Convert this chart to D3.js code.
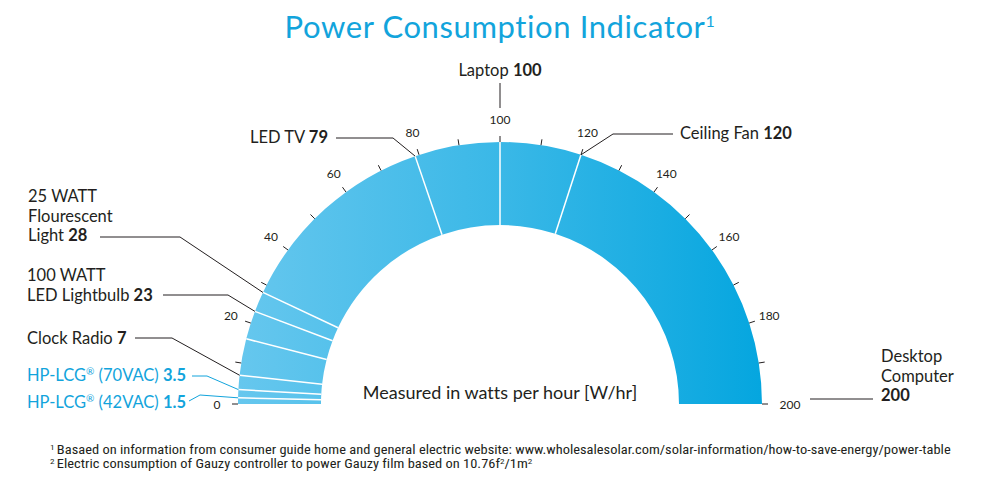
<!DOCTYPE html>
<html>
<head>
<meta charset="utf-8">
<script src="https://cdn.jsdelivr.net/npm/d3@7"></script>
<style>
  body { margin: 0; background: #fff; }
  svg { font-family: Lato, "Open Sans", sans-serif; font-variant-ligatures: none; }
</style>
</head>
<body>
<svg id="chart" width="1000" height="483"></svg>
<script>
// gauge scale and segments
var scaleMin = 0, scaleMax = 200;
var tickValues = d3.range(0, 201, 10);
var tickLabels = d3.range(0, 201, 20);
var segmentBreaks = [0, 1.5, 3.5, 7, 16, 23, 28, 79, 100, 120, 200];

// labelled devices
var devices = ["HP-LCG\u00ae (42VAC)", "HP-LCG\u00ae (70VAC)", "Clock Radio", "100 WATT|LED Lightbulb",
               "25 WATT|Flourescent|Light", "LED TV", "Laptop", "Ceiling Fan", "Desktop|Computer"];
var watts = [1.5, 3.5, 7, 23, 28, 79, 100, 120, 200];
var ownProduct = [true, true, false, false, false, false, false, false, false];

var footnotes = [
    ["1", "Basaed on information from consumer guide home and general electric website: www.wholesalesolar.com/solar-information/how-to-save-energy/power-table"],
    ["2", "Electric consumption of Gauzy controller to power Gauzy film based on 10.76f\u00b2/1m\u00b2"]
];

var svg = d3.select("#chart");
var cx = 500, cy = 404, rOuter = 262, rInner = 179;
var blue = "#12a4dc", dark = "#231f20";

// value -> angle (d3.arc convention, 0 at top)
var angle = d3.scaleLinear().domain([scaleMin, scaleMax]).range([-Math.PI / 2, Math.PI / 2]);
function pt(v, r) {
    var a = angle(v);
    return [cx + r * Math.sin(a), cy - r * Math.cos(a)];
}

// gradient, left to right across the gauge
var grad = svg.append("defs").append("linearGradient")
    .attr("id", "gaugeFill")
    .attr("gradientUnits", "userSpaceOnUse")
    .attr("x1", -rOuter).attr("x2", rOuter).attr("y1", 0).attr("y2", 0);
grad.append("stop").attr("offset", "0%").attr("stop-color", "#66c7ee");
grad.append("stop").attr("offset", "50%").attr("stop-color", "#3ab8e7");
grad.append("stop").attr("offset", "100%").attr("stop-color", "#05a6df");

// title
var title = svg.append("text")
    .attr("x", 500).attr("y", 38)
    .attr("text-anchor", "middle")
    .attr("fill", blue)
    .style("font-size", "31px")
    .style("letter-spacing", "0.6px");
title.append("tspan").text("Power Consumption Indicator");
title.append("tspan").attr("dy", -11).style("font-size", "16px").text("1");

var g = svg.append("g").attr("transform", "translate(" + cx + "," + cy + ")");

var arc = d3.arc().innerRadius(rInner).outerRadius(rOuter);

g.selectAll(".seg")
    .data(d3.pairs(segmentBreaks))
  .enter().append("path")
    .attr("class", "seg")
    .attr("fill", "url(#gaugeFill)")
    .attr("d", function(d) {
        return arc.startAngle(angle(d[0])).endAngle(angle(d[1]))();
    });

// white separators
g.selectAll(".sep")
    .data(segmentBreaks.slice(1, -1))
  .enter().append("line")
    .attr("class", "sep")
    .attr("x1", function(d) { return pt(d, rInner)[0] - cx; })
    .attr("y1", function(d) { return pt(d, rInner)[1] - cy; })
    .attr("x2", function(d) { return pt(d, rOuter)[0] - cx; })
    .attr("y2", function(d) { return pt(d, rOuter)[1] - cy; })
    .attr("stroke", "#fff")
    .attr("stroke-width", 1.5);

// ticks
svg.selectAll(".tick")
    .data(tickValues)
  .enter().append("line")
    .attr("class", "tick")
    .attr("x1", function(d) { return pt(d, rOuter)[0]; })
    .attr("y1", function(d) { return pt(d, rOuter)[1]; })
    .attr("x2", function(d) { return pt(d, rOuter + 6)[0]; })
    .attr("y2", function(d) { return pt(d, rOuter + 6)[1]; })
    .attr("stroke", dark)
    .attr("stroke-width", 1);

svg.selectAll(".tickLabel")
    .data(tickLabels)
  .enter().append("text")
    .attr("class", "tickLabel")
    .attr("x", function(d) { return pt(d, d === 200 ? 290 : 283)[0]; })
    .attr("y", function(d) { return pt(d, 285)[1]; })
    .attr("text-anchor", "middle")
    .attr("dominant-baseline", "central")
    .attr("fill", dark)
    .style("font-size", "12px")
    .text(function(d) { return d; });

// centre caption
svg.append("text")
    .attr("x", 500).attr("y", 399)
    .attr("text-anchor", "middle")
    .attr("fill", dark)
    .style("font-size", "18px")
    .text("Measured in watts per hour [W/hr]");

// label layout: text anchor, leader points (leader ends on the arc when toArc)
var layout = [
    { x: 27,  y: 408, anchor: "start", leader: [[189, 401], [200, 395]], toArc: true },
    { x: 27,  y: 381, anchor: "start", leader: [[192, 376], [207, 376]], toArc: true },
    { x: 27,  y: 344, anchor: "start", leader: [[135, 338], [172, 338]], toArc: true },
    { x: 27,  y: 281, anchor: "start", leader: [[163, 295], [228, 295]], toArc: true },
    { x: 28,  y: 202, anchor: "start", leader: [[100, 237], [180, 237]], toArc: true },
    { x: 250, y: 143, anchor: "start", leader: [[336, 138], [393, 138]], toArc: true },
    { x: 500, y: 76,  anchor: "middle", leader: [[500, 83], [500, 108]], toArc: false },
    { x: 680, y: 139, anchor: "start", leader: [[673, 134], [613, 134]], toArc: true },
    { x: 881, y: 362, anchor: "start", leader: [[810, 399], [873, 399]], toArc: false, numberOwnLine: true }
];

devices.forEach(function(name, i) {
    var L = layout[i];
    var col = ownProduct[i] ? blue : dark;
    var lines = name.split("|");
    var t = svg.append("text")
        .attr("x", L.x).attr("y", L.y)
        .attr("text-anchor", L.anchor)
        .attr("fill", col)
        .style("font-size", "16.5px");
    lines.forEach(function(s, j) {
        var sp = t.append("tspan").attr("x", L.x).attr("dy", j === 0 ? 0 : 19.5);
        var m = s.match(/^(.*)\u00ae(.*)$/);
        if (m) {
            sp.text(m[1]);
            t.append("tspan").attr("dy", -6).style("font-size", "10px").text("\u00ae");
            t.append("tspan").attr("dy", 6).text(m[2]);
        } else {
            sp.text(s);
        }
    });
    var num = L.numberOwnLine
        ? t.append("tspan").attr("x", L.x).attr("dy", 19.5)
        : t.append("tspan").text(" ").append("tspan");
    num.style("font-weight", "bold").text(watts[i]);

    var pts = L.leader.slice();
    if (L.toArc) pts.push(pt(watts[i], rOuter));
    svg.append("path")
        .attr("d", d3.line()(pts))
        .attr("fill", "none")
        .attr("stroke", col)
        .attr("stroke-width", 1);
});

// footnotes (narrow face stretched a little to the reference width)
footnotes.forEach(function(f, i) {
    var t = svg.append("text")
        .attr("x", 50).attr("y", 454 + i * 14.5)
        .attr("transform", "translate(50,0) scale(1.155,1) translate(-50,0)")
        .attr("fill", dark)
        .style("font-family", "'Liberation Sans Narrow', 'Roboto Condensed', sans-serif")
        .style("font-size", "12.5px");
    t.append("tspan").attr("dy", -4).style("font-size", "8px").text(f[0]);
    var parts = f[1].split("\u00b2");
    t.append("tspan").attr("dy", 4).attr("dx", 2).text(parts[0]);
    for (var k = 1; k < parts.length; k++) {
        t.append("tspan").attr("dy", -4).style("font-size", "8px").text("2");
        t.append("tspan").attr("dy", 4).text(parts[k]);
    }
});
</script>
</body>
</html>
